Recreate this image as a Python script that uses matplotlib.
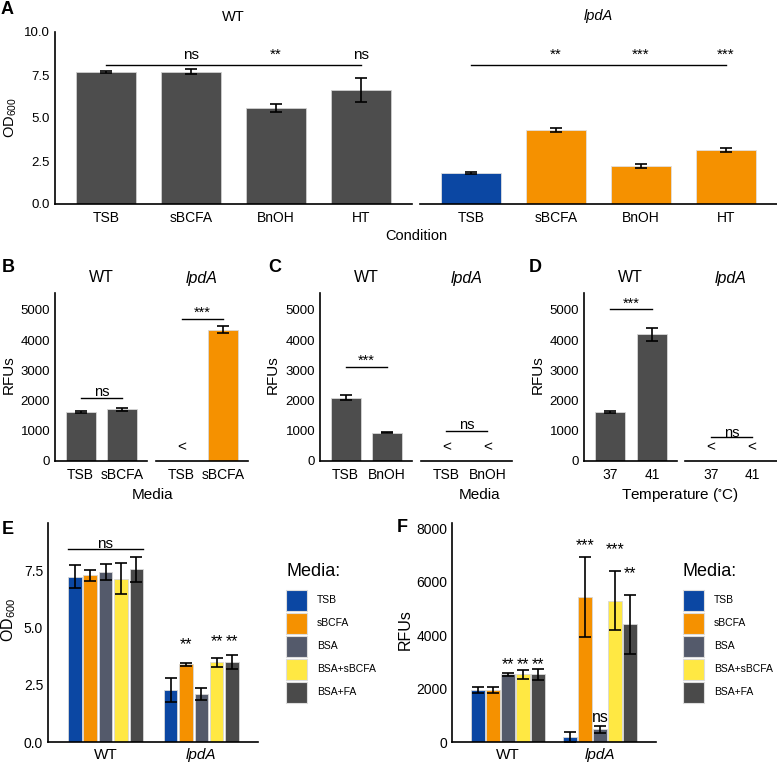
import matplotlib
matplotlib.use('Agg')
import matplotlib.pyplot as plt
from matplotlib.patches import Rectangle

plt.rcParams['font.family'] = ['Liberation Sans', 'DejaVu Sans']
plt.rcParams['mathtext.default'] = 'regular'

W, H = 777, 764

GREY = '#4d4d4d'
BLUE = '#0b47a3'
ORANGE = '#f59100'

# ---- panel A: OD600 by condition
a_cond = ['TSB', 'sBCFA', 'BnOH', 'HT']
a_wt = [7.68, 7.68, 5.58, 6.65]
a_wt_err = [0.05, 0.14, 0.26, 0.70]
a_lpda = [1.80, 4.30, 2.20, 3.14]
a_lpda_err = [0.08, 0.10, 0.10, 0.10]
a_wt_sig = ['', 'ns', '**', 'ns']
a_lpda_sig = ['', '**', '***', '***']

# ---- panels B-D: RFUs (None = below detection, shown as '<')
b_media = ['TSB', 'sBCFA']
b_wt = [1630, 1720]
b_wt_err = [30, 50]
b_lpda = [None, 4350]
b_lpda_err = [None, 130]

c_media = ['TSB', 'BnOH']
c_wt = [2090, 940]
c_wt_err = [80, 25]
c_lpda = [None, None]
c_lpda_err = [None, None]

d_temp = ['37', '41']
d_wt = [1630, 4190]
d_wt_err = [30, 210]
d_lpda = [None, None]
d_lpda_err = [None, None]

# ---- panels E/F: media comparison
media = ['TSB', 'sBCFA', 'BSA', 'BSA+sBCFA', 'BSA+FA']
media_colors = ['#0b47a3', '#f59100', '#545a6b', '#ffe843', '#4a4a4a']
strains = ['WT', 'lpdA']

e_wt = [7.25, 7.30, 7.45, 7.15, 7.58]
e_wt_err = [0.52, 0.25, 0.35, 0.68, 0.55]
e_lpda = [2.28, 3.40, 2.10, 3.50, 3.52]
e_lpda_err = [0.54, 0.07, 0.25, 0.20, 0.30]
e_lpda_sig = ['', '**', '', '**', '**']

f_wt = [1950, 1950, 2530, 2530, 2530]
f_wt_err = [125, 100, 60, 170, 200]
f_lpda = [190, 5430, 470, 5290, 4400]
f_lpda_err = [195, 1500, 130, 1090, 1100]
f_wt_sig = ['', '', '**', '**', '**']
f_lpda_sig = ['', '***', 'ns', '***', '**']

fig = plt.figure(figsize=(W / 100, H / 100), dpi=100)


def px_axes(x0, y0, x1, y1):
    return fig.add_axes([x0 / W, 1 - y1 / H, (x1 - x0) / W, (y1 - y0) / H])


def ftext(x, y, s, **kw):
    fig.text(x / W, 1 - y / H, s, **kw)


def style(ax, left=True):
    for s in ['top', 'right']:
        ax.spines[s].set_visible(False)
    ax.spines['bottom'].set_linewidth(1.2)
    ax.spines['left'].set_linewidth(1.2)
    ax.tick_params(length=0)
    if not left:
        ax.spines['left'].set_visible(False)
        ax.set_yticks([])


err_kw = dict(ecolor='black', elinewidth=1.2, capsize=4, capthick=1.2)

# ================= A
axa1 = px_axes(55, 32, 412, 204)
axa2 = px_axes(420, 32, 777, 204)
xa = list(range(len(a_cond)))
axa1.bar(xa, a_wt, 0.7, color=GREY, edgecolor='#d0d0d0', lw=0.6,
         yerr=a_wt_err, error_kw=err_kw)
axa2.bar(xa, a_lpda, 0.7, color=[BLUE, ORANGE, ORANGE, ORANGE],
         edgecolor='#e0e0e0', lw=0.6, yerr=a_lpda_err, error_kw=err_kw)
for ax, sig in [(axa1, a_wt_sig), (axa2, a_lpda_sig)]:
    ax.set_xlim(-0.6, 3.6)
    ax.set_ylim(0, 10)
    ax.set_xticks(xa)
    ax.set_xticklabels(a_cond, fontsize=10)
    ax.tick_params(axis='x', pad=5)
    ax.plot([0, 3], [8.08, 8.08], color='black', lw=1)
    for i, s in enumerate(sig):
        ax.text(i, 8.42, s, ha='center', va='baseline', fontsize=11)
style(axa1)
style(axa2, left=False)
axa1.set_yticks([0, 2.5, 5, 7.5, 10])
axa1.set_yticklabels(['0.0', '2.5', '5.0', '7.5', '10.0'], fontsize=9.5)
ftext(233, 17, 'WT', ha='center', va='center', fontsize=10.5)
ftext(598, 16, 'lpdA', ha='center', va='center', fontsize=10.5, style='italic')
ftext(416, 236, 'Condition', ha='center', va='center', fontsize=10.5)
ftext(11, 118, r'OD$_{600}$', ha='center', va='center', rotation=90, fontsize=10.5)
ftext(7, 10, 'A', ha='center', va='center', fontsize=13, weight='bold')


# ================= B, C, D
def rfu_pair(x_wt, x_lp, labels, wt, wt_err, lp, lp_err, sig_wt, sig_lp,
             xlabel, xlabel_x, letter, letter_x, ylab_x):
    ax1 = px_axes(x_wt[0], 293, x_wt[1], 461)
    ax2 = px_axes(x_lp[0], 293, x_lp[1], 461)
    for ax, vals, errs, col in [(ax1, wt, wt_err, GREY), (ax2, lp, lp_err, ORANGE)]:
        for i, (v, e) in enumerate(zip(vals, errs)):
            if v is None:
                ax.text(i, 472, '<', ha='center', va='center', fontsize=11)
            else:
                ax.bar(i, v, 0.72, color=col, edgecolor='#d8d8d8', lw=0.6,
                       yerr=e, error_kw=err_kw)
        ax.set_xlim(-0.62, 1.6)
        ax.set_ylim(0, 5560)
        ax.set_xticks([0, 1])
        ax.set_xticklabels(labels, fontsize=10)
        ax.tick_params(axis='x', pad=5)
    for ax, (yl, s, off) in [(ax1, sig_wt), (ax2, sig_lp)]:
        ax.plot([0, 1], [yl, yl], color='black', lw=1)
        ax.text(0.5, yl + off, s, ha='center', va='baseline', fontsize=10.5)
    style(ax1)
    style(ax2, left=False)
    ax1.set_yticks(range(0, 5001, 1000))
    ax1.set_yticklabels([str(v) for v in range(0, 5001, 1000)], fontsize=9.5)
    ftext(sum(x_wt) / 2, 278, 'WT', ha='center', va='center', fontsize=11.5)
    ftext(sum(x_lp) / 2, 278, 'lpdA', ha='center', va='center', fontsize=11.5,
          style='italic')
    ftext(xlabel_x, 495, xlabel, ha='center', va='center', fontsize=11)
    ftext(ylab_x, 375, 'RFUs', ha='center', va='center', rotation=90, fontsize=11)
    ftext(letter_x, 268, letter, ha='center', va='center', fontsize=13, weight='bold')


rfu_pair((55, 147), (156, 248), b_media, b_wt, b_wt_err, b_lpda, b_lpda_err,
         (2086, 'ns', 60), (4700, '***', 60), 'Media', 153, 'B', 8, 9)
rfu_pair((320, 412), (421, 512), c_media, c_wt, c_wt_err, c_lpda, c_lpda_err,
         (3110, '***', 60), (1000, 'ns', 60), 'Media', 480, 'C', 275, 273)
rfu_pair((584, 677), (685, 777), d_temp, d_wt, d_wt_err, d_lpda, d_lpda_err,
         (5020, '***', 60), (805, 'ns', -10), r'Temperature ($^{\circ}$C)', 680,
         'D', 535, 538)


# ================= E, F
def media_panel(box, ymax, wt, wt_err, lp, lp_err, step, width):
    ax = px_axes(*box)
    for k in range(len(media)):
        off = (k - 2) * step
        ax.bar([0 + off, 1 + off], [wt[k], lp[k]], width, color=media_colors[k],
               edgecolor='#d8d8d8', lw=0.6, yerr=[wt_err[k], lp_err[k]],
               error_kw=err_kw)
    ax.set_xlim(-0.6, 1.59)
    ax.set_ylim(0, ymax)
    ax.set_xticks([0, 1])
    ax.set_xticklabels(strains, fontsize=11)
    ax.get_xticklabels()[1].set_style('italic')
    ax.tick_params(axis='x', pad=4)
    style(ax)
    return ax


def media_legend(x):
    ftext(x, 571, 'Media:', ha='left', va='center', fontsize=13)
    for k, (name, col) in enumerate(zip(media, media_colors)):
        yc = 600 + k * 23
        fig.patches.append(Rectangle((x / W, 1 - (yc + 10.5) / H), 21 / W, 21 / H,
                                     transform=fig.transFigure, facecolor=col,
                                     edgecolor='#dddddd', lw=0.8))
        ftext(x + 31, yc, name, ha='left', va='center', fontsize=7.5)


step_e, width_e = 0.16, 0.14
axe = media_panel((48, 523, 258, 742), 9.6, e_wt, e_wt_err, e_lpda, e_lpda_err,
                  step_e, width_e)
axe.set_yticks([0, 2.5, 5, 7.5])
axe.set_yticklabels(['0.0', '2.5', '5.0', '7.5'], fontsize=10)
axe.plot([-2 * step_e - width_e / 2, 2 * step_e + width_e / 2], [8.45, 8.45],
         color='black', lw=1)
axe.text(0, 8.5, 'ns', ha='center', va='baseline', fontsize=11)
e_sig_y = [0, 4.08, 0, 4.2, 4.2]
for k, s in enumerate(e_lpda_sig):
    if s:
        axe.text(1 + (k - 2) * step_e, e_sig_y[k], s, ha='center', va='baseline',
                 fontsize=11.5)
media_legend(286)
ftext(9, 620, r'OD$_{600}$', ha='center', va='center', rotation=90, fontsize=11.5)
ftext(8, 530, 'E', ha='center', va='center', fontsize=13, weight='bold')

step_f, width_f = 0.163, 0.145
axf = media_panel((452, 523, 656, 742), 8190, f_wt, f_wt_err, f_lpda, f_lpda_err,
                  step_f, width_f)
axf.set_xlim(-0.61, 1.61)
axf.set_yticks(range(0, 8001, 2000))
axf.set_yticklabels([str(v) for v in range(0, 8001, 2000)], fontsize=10)
for k, s in enumerate(f_wt_sig):
    if s:
        axf.text((k - 2) * step_f, 2730, s, ha='center', va='baseline', fontsize=11.5)
f_sig_y = [0, 7180, 760, 7030, 6130]
for k, s in enumerate(f_lpda_sig):
    if s:
        axf.text(1 + (k - 2) * step_f, f_sig_y[k], s, ha='center', va='baseline',
                 fontsize=11.5)
media_legend(683)
ftext(405, 630, 'RFUs', ha='center', va='center', rotation=90, fontsize=11.5)
ftext(402, 528, 'F', ha='center', va='center', fontsize=13, weight='bold')

fig.savefig('out.png', dpi=100)
